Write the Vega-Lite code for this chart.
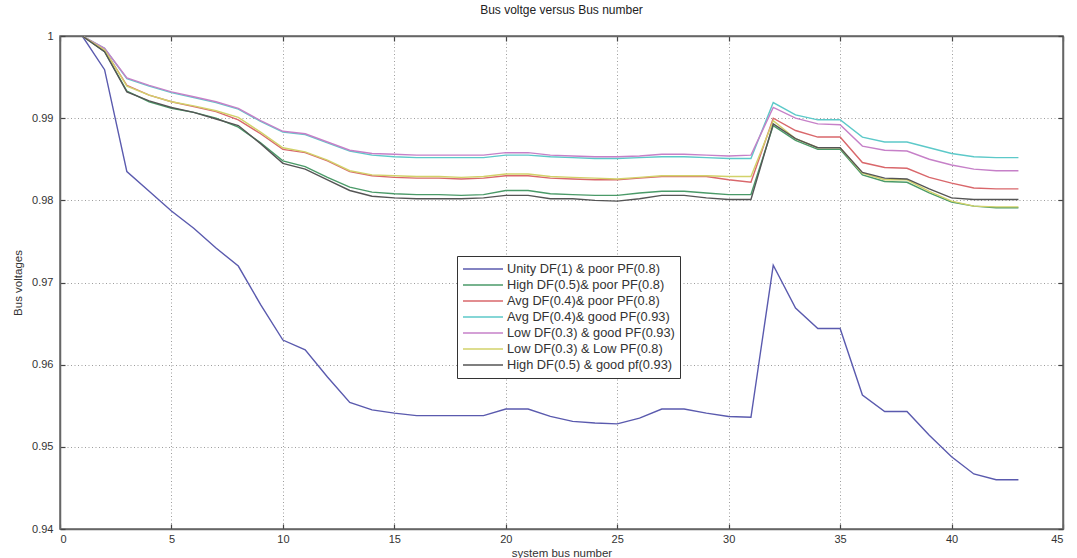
{
  "$schema": "https://vega.github.io/schema/vega-lite/v6.json",
  "autosize": "none",
  "padding": {"left": 60, "top": 36, "right": 14, "bottom": 29},
  "width": 1003,
  "height": 493,
  "background": "white",
  "config": {
    "font": "Liberation Sans",
    "view": {"stroke": "#666", "strokeWidth": 1.5},
    "axis": {"labelFont": "Liberation Sans", "titleFont": "Liberation Sans", "labelColor": "#333", "titleColor": "#333", "labelFontSize": 11, "titleFontSize": 11.5, "titleFontWeight": "normal", "domainColor": "#666", "domainWidth": 1.5, "tickColor": "#444", "tickWidth": 1.2, "gridColor": "#777", "gridDash": [1, 2.5], "gridWidth": 0.8, "gridOpacity": 0.9}
  },
  "title": {"text": "Bus voltge versus Bus number", "fontSize": 12, "fontWeight": "normal", "color": "#222", "font": "Liberation Sans", "offset": 13},
  "data": {"values": [
    {"bus": 1, "u": 1.0, "hp": 1.0, "ap": 1.0, "ag": 1.0, "lg": 1.0, "ll": 1.0, "hg": 1.0},
    {"bus": 2, "u": 0.9959, "hp": 0.9981, "ap": 0.9983, "ag": 0.9985, "lg": 0.9985, "ll": 0.9983, "hg": 0.9981},
    {"bus": 3, "u": 0.9835, "hp": 0.9933, "ap": 0.994, "ag": 0.9948, "lg": 0.9949, "ll": 0.9939, "hg": 0.9932},
    {"bus": 4, "u": 0.9811, "hp": 0.992, "ap": 0.9928, "ag": 0.9939, "lg": 0.994, "ll": 0.9928, "hg": 0.9921},
    {"bus": 5, "u": 0.9787, "hp": 0.9912, "ap": 0.992, "ag": 0.9931, "lg": 0.9932, "ll": 0.992, "hg": 0.9913},
    {"bus": 6, "u": 0.9766, "hp": 0.9907, "ap": 0.9914, "ag": 0.9925, "lg": 0.9926, "ll": 0.9915, "hg": 0.9907},
    {"bus": 7, "u": 0.9742, "hp": 0.99, "ap": 0.9908, "ag": 0.9919, "lg": 0.992, "ll": 0.9909, "hg": 0.9899},
    {"bus": 8, "u": 0.972, "hp": 0.9889, "ap": 0.9898, "ag": 0.9911, "lg": 0.9912, "ll": 0.9901, "hg": 0.9891},
    {"bus": 9, "u": 0.9673, "hp": 0.987, "ap": 0.9881, "ag": 0.9896, "lg": 0.9897, "ll": 0.9883, "hg": 0.9869},
    {"bus": 10, "u": 0.963, "hp": 0.9848, "ap": 0.9862, "ag": 0.9883, "lg": 0.9884, "ll": 0.9864, "hg": 0.9845},
    {"bus": 11, "u": 0.9618, "hp": 0.9841, "ap": 0.9858, "ag": 0.988, "lg": 0.9881, "ll": 0.9859, "hg": 0.9838},
    {"bus": 12, "u": 0.9585, "hp": 0.9828, "ap": 0.9848, "ag": 0.987, "lg": 0.9871, "ll": 0.9849, "hg": 0.9825},
    {"bus": 13, "u": 0.9554, "hp": 0.9816, "ap": 0.9835, "ag": 0.986, "lg": 0.9861, "ll": 0.9836, "hg": 0.9812},
    {"bus": 14, "u": 0.9545, "hp": 0.981, "ap": 0.983, "ag": 0.9855, "lg": 0.9857, "ll": 0.9831, "hg": 0.9805},
    {"bus": 15, "u": 0.9541, "hp": 0.9808, "ap": 0.9828, "ag": 0.9853, "lg": 0.9856, "ll": 0.983, "hg": 0.9803},
    {"bus": 16, "u": 0.9538, "hp": 0.9807, "ap": 0.9827, "ag": 0.9852, "lg": 0.9855, "ll": 0.9829, "hg": 0.9802},
    {"bus": 17, "u": 0.9538, "hp": 0.9807, "ap": 0.9827, "ag": 0.9852, "lg": 0.9855, "ll": 0.9829, "hg": 0.9802},
    {"bus": 18, "u": 0.9538, "hp": 0.9806, "ap": 0.9826, "ag": 0.9852, "lg": 0.9855, "ll": 0.9828, "hg": 0.9802},
    {"bus": 19, "u": 0.9538, "hp": 0.9807, "ap": 0.9827, "ag": 0.9852, "lg": 0.9855, "ll": 0.9829, "hg": 0.9803},
    {"bus": 20, "u": 0.9546, "hp": 0.9812, "ap": 0.983, "ag": 0.9855, "lg": 0.9858, "ll": 0.9832, "hg": 0.9806},
    {"bus": 21, "u": 0.9546, "hp": 0.9812, "ap": 0.983, "ag": 0.9855, "lg": 0.9858, "ll": 0.9832, "hg": 0.9806},
    {"bus": 22, "u": 0.9537, "hp": 0.9808, "ap": 0.9827, "ag": 0.9853, "lg": 0.9855, "ll": 0.9829, "hg": 0.9802},
    {"bus": 23, "u": 0.9531, "hp": 0.9807, "ap": 0.9826, "ag": 0.9852, "lg": 0.9854, "ll": 0.9828, "hg": 0.9802},
    {"bus": 24, "u": 0.9529, "hp": 0.9806, "ap": 0.9825, "ag": 0.9851, "lg": 0.9853, "ll": 0.9827, "hg": 0.98},
    {"bus": 25, "u": 0.9528, "hp": 0.9806, "ap": 0.9825, "ag": 0.9851, "lg": 0.9853, "ll": 0.9826, "hg": 0.9799},
    {"bus": 26, "u": 0.9535, "hp": 0.9809, "ap": 0.9827, "ag": 0.9852, "lg": 0.9854, "ll": 0.9828, "hg": 0.9802},
    {"bus": 27, "u": 0.9546, "hp": 0.9811, "ap": 0.9829, "ag": 0.9853, "lg": 0.9856, "ll": 0.983, "hg": 0.9806},
    {"bus": 28, "u": 0.9546, "hp": 0.9811, "ap": 0.9829, "ag": 0.9853, "lg": 0.9856, "ll": 0.983, "hg": 0.9806},
    {"bus": 29, "u": 0.9541, "hp": 0.9809, "ap": 0.9829, "ag": 0.9852, "lg": 0.9855, "ll": 0.983, "hg": 0.9803},
    {"bus": 30, "u": 0.9537, "hp": 0.9807, "ap": 0.9825, "ag": 0.9851, "lg": 0.9854, "ll": 0.9829, "hg": 0.9801},
    {"bus": 31, "u": 0.9536, "hp": 0.9807, "ap": 0.9822, "ag": 0.9851, "lg": 0.9855, "ll": 0.9829, "hg": 0.9801},
    {"bus": 32, "u": 0.9721, "hp": 0.9891, "ap": 0.99, "ag": 0.9919, "lg": 0.9913, "ll": 0.9897, "hg": 0.9893},
    {"bus": 33, "u": 0.9669, "hp": 0.9873, "ap": 0.9885, "ag": 0.9904, "lg": 0.99, "ll": 0.9875, "hg": 0.9875},
    {"bus": 34, "u": 0.9644, "hp": 0.9862, "ap": 0.9877, "ag": 0.9898, "lg": 0.9893, "ll": 0.9864, "hg": 0.9864},
    {"bus": 35, "u": 0.9644, "hp": 0.9862, "ap": 0.9877, "ag": 0.9898, "lg": 0.9892, "ll": 0.9864, "hg": 0.9864},
    {"bus": 36, "u": 0.9563, "hp": 0.9831, "ap": 0.9846, "ag": 0.9877, "lg": 0.9866, "ll": 0.9833, "hg": 0.9834},
    {"bus": 37, "u": 0.9543, "hp": 0.9823, "ap": 0.984, "ag": 0.9871, "lg": 0.9861, "ll": 0.9825, "hg": 0.9827},
    {"bus": 38, "u": 0.9543, "hp": 0.9822, "ap": 0.9839, "ag": 0.9871, "lg": 0.986, "ll": 0.9825, "hg": 0.9826},
    {"bus": 39, "u": 0.9514, "hp": 0.9809, "ap": 0.9828, "ag": 0.9864, "lg": 0.985, "ll": 0.9811, "hg": 0.9814},
    {"bus": 40, "u": 0.9488, "hp": 0.9798, "ap": 0.9821, "ag": 0.9857, "lg": 0.9843, "ll": 0.9799, "hg": 0.9803},
    {"bus": 41, "u": 0.9467, "hp": 0.9793, "ap": 0.9815, "ag": 0.9853, "lg": 0.9838, "ll": 0.9793, "hg": 0.9801},
    {"bus": 42, "u": 0.946, "hp": 0.9791, "ap": 0.9814, "ag": 0.9852, "lg": 0.9836, "ll": 0.9792, "hg": 0.9801},
    {"bus": 43, "u": 0.946, "hp": 0.9791, "ap": 0.9814, "ag": 0.9852, "lg": 0.9836, "ll": 0.9792, "hg": 0.9801}
  ]},
  "transform": [{"fold": ["u", "hp", "ap", "ag", "lg", "ll", "hg"], "as": ["series", "voltage"]}],
  "layer": [
    {
      "mark": {"type": "line", "strokeWidth": 1.4, "clip": true},
      "encoding": {
        "x": {"field": "bus", "type": "quantitative", "scale": {"domain": [0, 45], "nice": false, "zero": false},
          "axis": {"orient": "bottom", "values": [0, 5, 10, 15, 20, 25, 30, 35, 40, 45], "title": "system bus number", "tickSize": -5, "labelPadding": 9, "titlePadding": 3, "grid": true}},
        "y": {"field": "voltage", "type": "quantitative", "scale": {"domain": [0.94, 1], "nice": false, "zero": false},
          "axis": {"orient": "left", "values": [0.94, 0.95, 0.96, 0.97, 0.98, 0.99, 1], "format": ".2~f", "title": "Bus voltages", "tickSize": -5, "labelPadding": 12, "titlePadding": 8, "grid": true}},
        "color": {"field": "series", "type": "nominal",
          "scale": {"domain": ["u", "hp", "ap", "ag", "lg", "ll", "hg"], "range": ["#5a5aae", "#4a9a68", "#d9676b", "#5cc9c9", "#c680c8", "#d2d26a", "#555555"]},
          "legend": {"orient": "none", "legendX": 397, "legendY": 220, "title": null, "symbolType": "M-1,0H1", "symbolSize": 1600, "symbolStrokeWidth": 1.4, "labelFontSize": 12.8, "labelLimit": 300, "labelFont": "Liberation Sans", "labelColor": "#333", "strokeColor": "#333", "fillColor": "white", "padding": 5, "rowPadding": 0, "clipHeight": 16, "labelOffset": 3,
            "labelExpr": "datum.label == 'u' ? 'Unity DF(1) & poor PF(0.8)' : datum.label == 'hp' ? 'High DF(0.5)& poor PF(0.8)' : datum.label == 'ap' ? 'Avg DF(0.4)& poor PF(0.8)' : datum.label == 'ag' ? 'Avg DF(0.4)& good PF(0.93)' : datum.label == 'lg' ? 'Low DF(0.3) & good PF(0.93)' : datum.label == 'll' ? 'Low DF(0.3) & Low PF(0.8)' : 'High DF(0.5) & good pf(0.93)'"}}
      }
    },
    {
      "mark": {"type": "line", "strokeOpacity": 0},
      "encoding": {
        "x": {"field": "bus", "type": "quantitative", "axis": {"orient": "top", "values": [0, 5, 10, 15, 20, 25, 30, 35, 40, 45], "labels": false, "title": null, "tickSize": -5, "grid": false}},
        "y": {"field": "voltage", "type": "quantitative", "axis": {"orient": "right", "values": [0.94, 0.95, 0.96, 0.97, 0.98, 0.99, 1], "labels": false, "title": null, "tickSize": -5, "grid": false}},
        "detail": {"field": "series", "type": "nominal"}
      }
    }
  ],
  "resolve": {"axis": {"x": "independent", "y": "independent"}}
}
